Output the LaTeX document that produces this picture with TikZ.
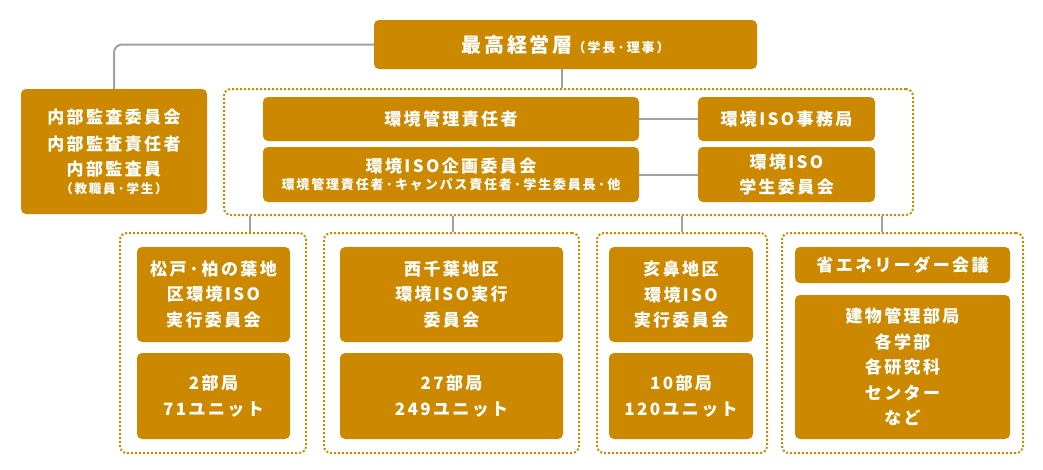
\documentclass[tikz,border=0pt]{standalone}
\usepackage{fontspec}
\newfontfamily\jp{Noto Sans CJK JP}[LetterSpace=14]
\definecolor{gold}{RGB}{204,137,0}
\definecolor{conngray}{RGB}{160,160,168}
\tikzset{
  box/.style={fill=gold, text=white, rounded corners=5pt, inner sep=0pt, align=center,
    font=\jp\bfseries\fontsize{17}{25.5}\selectfont},
  grp/.style={draw=gold, line width=2pt, dash pattern=on 2pt off 2pt, rounded corners=7pt, inner sep=0pt},
  link/.style={draw=conngray, line width=2pt},
}
\begin{document}
\begin{tikzpicture}[x=1pt,y=-1pt]
\useasboundingbox (0,0) rectangle (1043,469);
% dotted groups
\node[grp, minimum width=689pt, minimum height=126pt] (cont) at (568.5,152) {};
\node[grp, minimum width=186pt, minimum height=220pt] (c1) at (213,343) {};
\node[grp, minimum width=255pt, minimum height=220pt] (c2) at (451.5,343) {};
\node[grp, minimum width=170pt, minimum height=220pt] (c3) at (682,343) {};
\node[grp, minimum width=241pt, minimum height=220pt] (c4) at (902.5,343) {};
% boxes
\node[box, minimum width=383pt, minimum height=49pt] (top) at (565.5,44.5)
  {{\fontsize{20}{22}\selectfont 最高経営層}{\fontsize{13}{14}\selectfont（学長·理事）}};
\node[box, minimum width=186pt, minimum height=125pt] (audit) at (114,151.5)
  {\rule{0pt}{15pt}内部監査委員会\\[1pt]内部監査責任者\\内部監査員\\[-8pt]{\fontsize{12.5}{14}\selectfont（教職員·学生）}};
\node[box, minimum width=376pt, minimum height=44pt] (emr) at (451,119) {環境管理責任者};
\node[box, minimum width=376pt, minimum height=55pt] (plan) at (451,174.5)
  {環境ISO企画委員会\\[-9pt]{\fontsize{13}{14}\selectfont 環境管理責任者·キャンパス責任者·学生委員長·他}};
\node[box, minimum width=177pt, minimum height=44pt] (sec) at (786.5,119) {環境ISO事務局};
\node[box, minimum width=177pt, minimum height=55pt] (stu) at (786.5,174.5) {環境ISO\\学生委員会};
\node[box, minimum width=153pt, minimum height=95pt] (m1) at (213.5,294.5) {松戸·柏の葉地\\区環境ISO\\実行委員会};
\node[box, minimum width=153pt, minimum height=86pt] (u1) at (213.5,396) {2部局\\71ユニット};
\node[box, minimum width=223pt, minimum height=95pt] (m2) at (451.5,294.5) {西千葉地区\\環境ISO実行\\委員会};
\node[box, minimum width=223pt, minimum height=86pt] (u2) at (451.5,396) {27部局\\249ユニット};
\node[box, minimum width=144pt, minimum height=95pt] (m3) at (681,294.5) {亥鼻地区\\環境ISO\\実行委員会};
\node[box, minimum width=144pt, minimum height=86pt] (u3) at (681,396) {10部局\\120ユニット};
\node[box, minimum width=215pt, minimum height=36pt] (m4) at (902.5,265) {省エネリーダー会議};
\node[box, minimum width=215pt, minimum height=144pt] (u4) at (902.5,367) {建物管理部局\\各学部\\各研究科\\センター\\など};
% connectors
\coordinate (x0) at (562,0);
\coordinate (x1) at (250,0);
\coordinate (x2) at (453,0);
\coordinate (x3) at (682,0);
\coordinate (x4) at (882,0);
\draw[link, rounded corners=8pt] (top.west) -| (audit.north);
\draw[link] (top.south -| x0) -- (cont.north -| x0);
\draw[link] (emr.east) -- (sec.west);
\draw[link] (plan.east) -- (stu.west);
\draw[link] (cont.south -| x1) -- (c1.north -| x1);
\draw[link] (cont.south -| x2) -- (c2.north -| x2);
\draw[link] (cont.south -| x3) -- (c3.north -| x3);
\draw[link] (cont.south -| x4) -- (c4.north -| x4);
\end{tikzpicture}
\end{document}
